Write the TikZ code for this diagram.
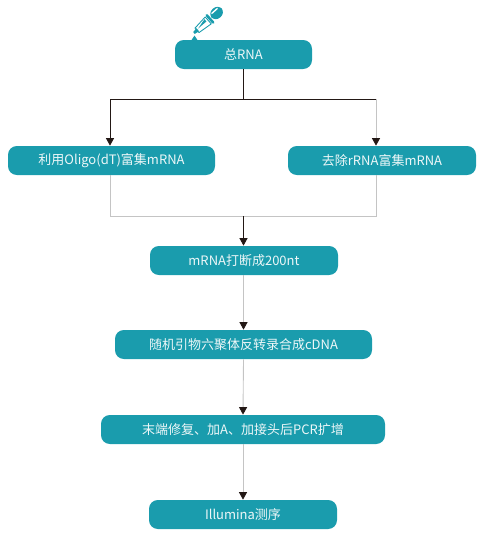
\documentclass[tikz,border=0pt]{standalone}
\usepackage{fontspec}
\usetikzlibrary{arrows.meta}
\newfontfamily\cjkfont{Noto Sans CJK SC}
\definecolor{stepFill}{HTML}{1A9CAD}
\definecolor{lineGray}{HTML}{C4C4C4}
\definecolor{lineDark}{HTML}{231815}

\begin{document}
\begin{tikzpicture}[
  x=.02cm,y=-.02cm,
  font=\cjkfont\fontsize{7.4pt}{9pt}\selectfont,
  box/.style={rectangle,rounded corners=5pt,fill=stepFill,text=white!92!stepFill,minimum height=29*.02cm,inner sep=0pt,align=center},
  edge/.style={-{Triangle[length=1.5mm,width=1.6mm,color=lineDark]},line width=.5pt,draw=lineDark},
  edgegray/.style={edge,draw=lineGray},
  plain/.style={line width=.5pt,draw=lineDark},
  plaingray/.style={line width=.5pt,draw=lineGray}
]
\useasboundingbox (0,0) rectangle (488,538);
\node[box,minimum width=137*.02cm] (total) at (243.5,54.5) {总RNA};
\node[box,minimum width=207*.02cm] (oligo) at (111.5,160.5) {利用Oligo(dT)富集mRNA};
\node[box,minimum width=188*.02cm] (rrna) at (382,160.5) {去除rRNA富集mRNA};
\node[box,minimum width=188*.02cm] (frag) at (244,260.5) {mRNA打断成200nt};
\node[box,minimum width=257*.02cm] (cdna) at (243.5,344.5) {随机引物六聚体反转录合成cDNA};
\node[box,minimum width=284*.02cm] (repair) at (243,429.5) {末端修复、加A、加接头后PCR扩增};
\node[box,minimum width=188*.02cm] (seq) at (243,514.5) {Illumina测序};
\coordinate (split) at (243.5,99);
\coordinate (join) at (243.5,216);

% Upper fork: the right drop is gray below a dark bar.
\draw[plain] (total.south) -- (split);
\draw[edge] (split) -| ([xshift=-1.5*.02cm]oligo.north);
\draw[plain] (split) -- ([xshift=-6*.02cm]rrna.north |- split);
\draw[edgegray] ([xshift=-6*.02cm]rrna.north |- split) -- ([xshift=-6*.02cm]rrna.north);
\draw[plaingray] ([xshift=-1.5*.02cm]oligo.south) |- (join);
\draw[plaingray] ([xshift=-6*.02cm]rrna.south) |- (join);
\draw[edge] (join) -- (join |- frag.north);
\draw[edgegray] (frag.south -| cdna.north) -- (cdna.north);
\draw[edgegray] (cdna.south) -- (repair.north);
\draw[edgegray] (repair.south) -- (seq.north);

% Dropper icon over the first box.
\fill[stepFill] (191.5,40) -- (194.5,35.5) -- (197.5,40) -- cycle;
\begin{scope}[shift={(194,33)},rotate=41.5]
  \fill[stepFill] (0,-1.2) -- (5,-2) -- (5,2) -- (0,1.2) -- cycle;
  \draw[stepFill,line width=.5pt,line join=round] (4,-3) -- (19,-4.6) -- (19,4.6) -- (4,3) -- cycle;
  \fill[stepFill] (6,-.6) -- (17,-3.4) -- (17,-.4) -- cycle;
  \fill[stepFill,rounded corners=.8pt] (20,-6.2) rectangle (22.6,6.2);
  \fill[stepFill,rounded corners=3.5pt] (23.4,-5.6) rectangle (37,5.6);
  \fill[white,rounded corners=.6pt] (25.5,-3.6) rectangle (34.5,-2.2);
\end{scope}
\end{tikzpicture}
\end{document}
